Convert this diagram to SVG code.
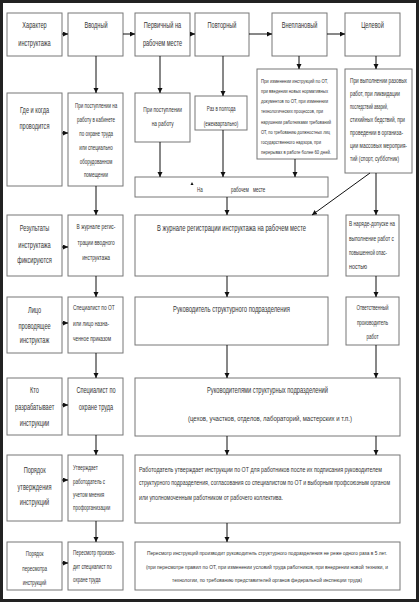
<svg xmlns="http://www.w3.org/2000/svg" width="419" height="602" viewBox="0 0 419 602">
<style>
.b{fill:#fff;stroke:#777;stroke-width:1}
text{font-family:"Liberation Sans",Arial,sans-serif;fill:#333}
.c{text-anchor:middle;transform-box:fill-box;transform-origin:center;transform:scaleX(0.66)}
.l{transform-box:fill-box;transform-origin:left center;transform:scaleX(0.66)}
.m{text-anchor:middle}
.a{stroke:#111;stroke-width:1;fill:none;marker-end:url(#ah)}
.f1{font-size:8.5px}
.f2{font-size:7.3px}
.f3{font-size:6.8px}
.s1{font-size:5.86px}
.s2{font-size:5.03px}
.s3{font-size:4.7px}
.s4{font-size:4.5px}
.s5{font-size:4px}
</style>
<defs>
<marker id="ah" markerUnits="userSpaceOnUse" markerWidth="6" markerHeight="6" refX="5" refY="2.5" orient="auto">
<path d="M0,0 L5,2.5 L0,5 z" fill="#111"/>
</marker>
</defs>
<rect x="0" y="0" width="419" height="602" fill="#fff"/>
<rect x="1.5" y="1.5" width="416" height="599" fill="none" stroke="#222" stroke-width="3"/>

<g id="label1"><rect class="b" x="7" y="13" width="55" height="43"/>
<text class="c f1" x="34.5" y="28">Характер</text><text class="c f1" x="34.5" y="46">инструктажа</text></g>
<g id="vvodny"><rect class="b" x="68" y="13" width="55" height="43"/>
<text class="c f1" x="96" y="28">Вводный</text></g>
<g id="pervichny"><rect class="b" x="135" y="13" width="55" height="43"/>
<text class="c f1" x="162.5" y="28">Первичный на</text><text class="c f1" x="162.5" y="46">рабочем месте</text></g>
<g id="povtorny"><rect class="b" x="195" y="13" width="54" height="43"/>
<text class="c f1" x="222" y="28">Повторный</text></g>
<g id="vneplanovy"><rect class="b" x="272" y="13" width="55" height="43"/>
<text class="c f1" x="299.5" y="28">Внеплановый</text></g>
<g id="celevoy"><rect class="b" x="345" y="13" width="55" height="43"/>
<text class="c f1" x="372.5" y="28">Целевой</text></g>

<g id="label2"><rect class="b" x="7" y="93" width="55" height="93"/>
<text class="c f1" x="34.5" y="113">Где и когда</text><text class="c f1" x="34.5" y="129">проводится</text></g>
<g id="vvod2"><rect class="b" x="68" y="93" width="55" height="93"/>
<text class="c f3" x="96" y="108.5">При поступлении на</text>
<text class="c f3" x="96" y="122.3">работу в кабинете</text>
<text class="c f3" x="96" y="136">по охране труда</text>
<text class="c f3" x="96" y="149.8">или специально</text>
<text class="c f3" x="96" y="163.6">оборудованном</text>
<text class="c f3" x="96" y="177.4">помещении</text></g>
<g id="perv2"><rect class="b" x="135" y="93" width="55" height="49"/>
<text class="c f2" x="162.5" y="112">При поступлении</text><text class="c f2" x="162.5" y="126">на работу</text></g>
<g id="povt2"><rect class="b" x="195" y="96" width="52" height="34"/>
<text class="c f3" x="221" y="111">Раз в полгода</text><text class="c f3" x="221" y="126">(ежеквартально)</text></g>
<g id="vnepl2"><rect class="b" x="257" y="69" width="80" height="90"/>
<text class="s5" x="261" y="83" transform="matrix(1 0 0 1.45 0 -37.35)" textLength="67" lengthAdjust="spacingAndGlyphs">При изменении инструкций по ОТ,</text>
<text class="s5" x="261" y="93" transform="matrix(1 0 0 1.45 0 -41.85)" textLength="67" lengthAdjust="spacingAndGlyphs">при введении новых нормативных</text>
<text class="s5" x="261" y="103.5" transform="matrix(1 0 0 1.45 0 -46.575)" textLength="67" lengthAdjust="spacingAndGlyphs">документов по ОТ, при изменении</text>
<text class="s5" x="261" y="113.5" transform="matrix(1 0 0 1.45 0 -51.075)" textLength="62" lengthAdjust="spacingAndGlyphs">технологических процессов, при</text>
<text class="s5" x="261" y="124" transform="matrix(1 0 0 1.45 0 -55.8)" textLength="70" lengthAdjust="spacingAndGlyphs">нарушении работниками требований</text>
<text class="s5" x="261" y="134" transform="matrix(1 0 0 1.45 0 -60.3)" textLength="69" lengthAdjust="spacingAndGlyphs">ОТ, по требованию должностных лиц</text>
<text class="s5" x="261" y="144" transform="matrix(1 0 0 1.45 0 -64.8)" textLength="60" lengthAdjust="spacingAndGlyphs">государственного надзора, при</text>
<text class="s5" x="261" y="154.5" transform="matrix(1 0 0 1.45 0 -69.525)" textLength="70" lengthAdjust="spacingAndGlyphs">перерывах в работе более 60 дней.</text></g>
<g id="cel2"><rect class="b" x="345" y="69" width="67" height="104"/>
<text class="s3" x="350" y="83.5" transform="matrix(1 0 0 1.45 0 -37.575)" textLength="57" lengthAdjust="spacingAndGlyphs">При выполнении разовых</text>
<text class="s3" x="350" y="96.5" transform="matrix(1 0 0 1.45 0 -43.425)" textLength="50" lengthAdjust="spacingAndGlyphs">работ, при ликвидации</text>
<text class="s3" x="350" y="109.5" transform="matrix(1 0 0 1.45 0 -49.275)" textLength="38" lengthAdjust="spacingAndGlyphs">последствий аварий,</text>
<text class="s3" x="350" y="122.5" transform="matrix(1 0 0 1.45 0 -55.125)" textLength="55" lengthAdjust="spacingAndGlyphs">стихийных бедствий, при</text>
<text class="s3" x="350" y="135.5" transform="matrix(1 0 0 1.45 0 -60.975)" textLength="53" lengthAdjust="spacingAndGlyphs">проведении в организа-</text>
<text class="s3" x="350" y="148.5" transform="matrix(1 0 0 1.45 0 -66.825)" textLength="57" lengthAdjust="spacingAndGlyphs">ции массовых мероприя-</text>
<text class="s3" x="350" y="161.5" transform="matrix(1 0 0 1.45 0 -72.675)" textLength="49" lengthAdjust="spacingAndGlyphs">тий (спорт, субботник)</text></g>
<g id="onsite"><rect class="b" x="135" y="177" width="193" height="20"/>
<path d="M190.5,185 L192,182 L193.5,185 z" fill="#111"/>
<text class="l f3" x="197" y="192">На</text>
<text class="l f3" x="231" y="192">рабочем</text>
<text class="l f3" x="253" y="192">месте</text></g>

<g id="label3"><rect class="b" x="7" y="215" width="55" height="61"/>
<text class="c f1" x="34.5" y="231">Результаты</text><text class="c f1" x="34.5" y="248">инструктажа</text><text class="c f1" x="34.5" y="263">фиксируются</text></g>
<g id="vvod3"><rect class="b" x="68" y="215" width="55" height="61"/>
<text class="c f2" x="96" y="229.5">В журнале регис-</text>
<text class="c f2" x="96" y="245.5">трации вводного</text>
<text class="c f2" x="96" y="260.5">инструктажа</text></g>
<g id="journal"><rect class="b" x="135" y="215" width="193" height="61"/>
<text class="m s1" x="231.5" y="231" transform="matrix(1 0 0 1.45 0 -103.95)" textLength="149" lengthAdjust="spacingAndGlyphs">В журнале регистрации инструктажа на рабочем месте</text></g>
<g id="naryad"><rect class="b" x="346" y="215" width="53" height="61"/>
<text class="s3" x="349" y="226.5" transform="matrix(1 0 0 1.45 0 -101.925)" textLength="46" lengthAdjust="spacingAndGlyphs">В наряде-допуске на</text>
<text class="s3" x="349" y="241.5" transform="matrix(1 0 0 1.45 0 -108.675)" textLength="45" lengthAdjust="spacingAndGlyphs">выполнение работ с</text>
<text class="s3" x="349" y="255.5" transform="matrix(1 0 0 1.45 0 -114.975)" textLength="38" lengthAdjust="spacingAndGlyphs">повышенной опас-</text>
<text class="s3" x="349" y="269.5" transform="matrix(1 0 0 1.45 0 -121.275)" textLength="18" lengthAdjust="spacingAndGlyphs">ностью</text></g>

<g id="label4"><rect class="b" x="7" y="297" width="55" height="56"/>
<text class="c f1" x="34.5" y="313">Лицо</text><text class="c f1" x="34.5" y="329">проводящее</text><text class="c f1" x="34.5" y="343">инструктаж</text></g>
<g id="vvod4"><rect class="b" x="68" y="297" width="55" height="56"/>
<text class="l f2" x="73" y="310.5">Специалист  по ОТ</text>
<text class="l f2" x="73" y="326.5">или лицо назна-</text>
<text class="l f2" x="73" y="341.5">ченное приказом</text></g>
<g id="ruk"><rect class="b" x="135" y="297" width="193" height="48"/>
<text class="m s1" x="231.5" y="312" transform="matrix(1 0 0 1.45 0 -140.4)" textLength="117" lengthAdjust="spacingAndGlyphs">Руководитель структурного подразделения</text></g>
<g id="otv"><rect class="b" x="346" y="297" width="53" height="48"/>
<text class="c f3" x="372.5" y="310.5">Ответственный</text>
<text class="c f3" x="372.5" y="325.5">производитель</text>
<text class="c f3" x="372.5" y="339.5">работ</text></g>

<g id="label5"><rect class="b" x="7" y="378" width="55" height="57"/>
<text class="c f1" x="34.5" y="393">Кто</text><text class="c f1" x="34.5" y="410">разрабатывает</text><text class="c f1" x="34.5" y="426">инструкции</text></g>
<g id="vvod5"><rect class="b" x="68" y="378" width="55" height="57"/>
<text class="c f1" x="96" y="393">Специалист по</text>
<text class="c f1" x="96" y="410">охране труда</text></g>
<g id="dev"><rect class="b" x="135" y="378" width="265" height="58"/>
<text class="m s1" x="267.5" y="393" transform="matrix(1 0 0 1.45 0 -176.85)" textLength="121" lengthAdjust="spacingAndGlyphs">Руководителями структурных подразделений</text>
<text class="m s2" x="270" y="421" transform="matrix(1 0 0 1.45 0 -189.45)" textLength="164" lengthAdjust="spacingAndGlyphs">(цехов, участков, отделов, лабораторий, мастерских и т.п.)</text></g>

<g id="label6"><rect class="b" x="7" y="455" width="55" height="66"/>
<text class="c f1" x="34.5" y="473">Порядок</text><text class="c f1" x="34.5" y="490">утверждения</text><text class="c f1" x="34.5" y="505">инструкций</text></g>
<g id="vvod6"><rect class="b" x="68" y="455" width="55" height="66"/>
<text class="l f3" x="73" y="470.5">Утверждает</text>
<text class="l f3" x="73" y="484.5">работодатель с</text>
<text class="l f3" x="73" y="497.5">учетом мнения</text>
<text class="l f3" x="73" y="510.5">профорганизации</text></g>
<g id="appr"><rect class="b" x="135" y="455" width="265" height="68"/>
<text class="s4" x="139" y="472" transform="matrix(1 0 0 1.45 0 -212.4)" textLength="243" lengthAdjust="spacingAndGlyphs">Работодатель утверждает инструкции по ОТ для работников после их подписания руководителем</text>
<text class="s4" x="139" y="485.5" transform="matrix(1 0 0 1.45 0 -218.475)" textLength="251" lengthAdjust="spacingAndGlyphs">структурного подразделения, согласования со специалистом по ОТ  и выборным профсоюзным органом</text>
<text class="s4" x="139" y="500" transform="matrix(1 0 0 1.45 0 -225)" textLength="144" lengthAdjust="spacingAndGlyphs">или уполномоченным работником от рабочего коллектива.</text></g>

<g id="label7"><rect class="b" x="7" y="542" width="55" height="48"/>
<text class="c f3" x="34.5" y="556">Порядок</text><text class="c f3" x="34.5" y="571">пересмотра</text><text class="c f3" x="34.5" y="585">инструкций</text></g>
<g id="vvod7"><rect class="b" x="68" y="542" width="55" height="48"/>
<text class="l f3" x="73" y="555.5">Пересмотр произво-</text>
<text class="l f3" x="73" y="569.5">дит специалист по</text>
<text class="l f3" x="73" y="582.5">охране труда</text></g>
<g id="rev"><rect class="b" x="135" y="542" width="265" height="48"/>
<text class="m s5" x="267" y="555" transform="matrix(1 0 0 1.45 0 -249.75)" textLength="240" lengthAdjust="spacingAndGlyphs">Пересмотр инструкций производит руководитель структурного подразделения не реже одного раза в 5 лет.</text>
<text class="m s5" x="267" y="569" transform="matrix(1 0 0 1.45 0 -256.05)" textLength="242" lengthAdjust="spacingAndGlyphs">(при пересмотре правил по ОТ, при изменении условий труда работников, при внедрении новой техники,  и</text>
<text class="m s5" x="267" y="582" transform="matrix(1 0 0 1.45 0 -261.9)" textLength="190" lengthAdjust="spacingAndGlyphs">технологии, по требованию представителей органов федеральной инспекции труда)</text></g>

<g id="connectors">
<line class="a" x1="62" y1="34" x2="68" y2="34"/>
<line class="a" x1="123" y1="34" x2="135" y2="34"/>
<line class="a" x1="190" y1="34" x2="195" y2="34"/>
<line class="a" x1="249" y1="34" x2="272" y2="34"/>
<line class="a" x1="327" y1="34" x2="345" y2="34"/>
<line class="a" x1="96" y1="56" x2="96" y2="93"/>
<line class="a" x1="160" y1="56" x2="160" y2="93"/>
<line class="a" x1="223" y1="56" x2="223" y2="96"/>
<line class="a" x1="299" y1="56" x2="299" y2="69"/>
<line class="a" x1="376" y1="56" x2="376" y2="69"/>
<line class="a" x1="62" y1="133" x2="68" y2="133"/>
<line class="a" x1="160" y1="142" x2="160" y2="177"/>
<line class="a" x1="223" y1="130" x2="223" y2="177"/>
<line class="a" x1="295" y1="159" x2="295" y2="177"/>
<line class="a" x1="227" y1="197" x2="227" y2="215"/>
<line class="a" x1="370" y1="173" x2="312" y2="215"/>
<line class="a" x1="376" y1="173" x2="376" y2="215"/>
<line class="a" x1="96" y1="186" x2="96" y2="215"/>
<line class="a" x1="62" y1="247" x2="68" y2="247"/>
<line class="a" x1="96" y1="276" x2="96" y2="297"/>
<line class="a" x1="227" y1="276" x2="227" y2="297"/>
<line class="a" x1="376" y1="276" x2="376" y2="297"/>
<line class="a" x1="62" y1="323" x2="68" y2="323"/>
<line class="a" x1="96" y1="353" x2="96" y2="378"/>
<line class="a" x1="227" y1="345" x2="227" y2="378"/>
<line class="a" x1="376" y1="345" x2="376" y2="378"/>
<line class="a" x1="62" y1="405" x2="68" y2="405"/>
<line class="a" x1="96" y1="435" x2="96" y2="455"/>
<line class="a" x1="227" y1="436" x2="227" y2="455"/>
<line class="a" x1="376" y1="436" x2="376" y2="455"/>
<line class="a" x1="62" y1="480" x2="68" y2="480"/>
<line class="a" x1="96" y1="521" x2="96" y2="542"/>
<line class="a" x1="227" y1="523" x2="227" y2="542"/>
<line class="a" x1="62" y1="563" x2="68" y2="563"/>
</g>
</svg>
